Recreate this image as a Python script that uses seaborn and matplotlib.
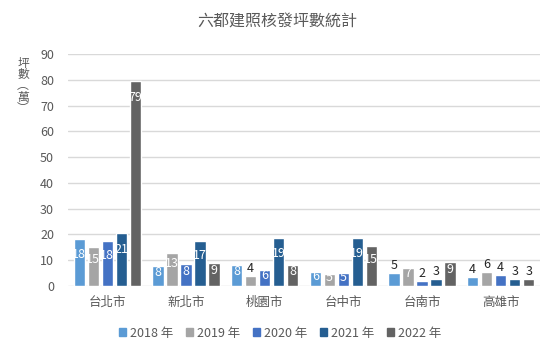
import matplotlib

matplotlib.use("Agg")
import matplotlib.pyplot as plt
import pandas as pd
import seaborn as sns

cities = ["台北市", "新北市", "桃園市", "台中市", "台南市", "高雄市"]
years = ["2018 年", "2019 年", "2020 年", "2021 年", "2022 年"]
area_2018 = [18.2, 7.7, 8.1, 5.6, 5.0, 3.6]
area_2019 = [15.1, 12.7, 3.9, 4.8, 7.0, 5.5]
area_2020 = [17.6, 8.4, 6.2, 5.1, 2.0, 4.2]
area_2021 = [20.6, 17.4, 18.6, 18.7, 2.7, 2.7]
area_2022 = [79.4, 8.9, 8.1, 15.4, 9.2, 2.7]
# labels drawn above the bar in black instead of inside
outside_labels = {
    ("桃園市", "2019 年"),
    ("台南市", "2018 年"), ("台南市", "2020 年"), ("台南市", "2021 年"),
    ("高雄市", "2018 年"), ("高雄市", "2019 年"), ("高雄市", "2020 年"),
    ("高雄市", "2021 年"), ("高雄市", "2022 年"),
}

colors = ["#5B9BD5", "#A5A5A5", "#4472C4", "#255E91", "#636363"]
FONT = ["Noto Sans CJK TC", "DejaVu Sans"]
TEXT_GREY = "#595959"

series = [area_2018, area_2019, area_2020, area_2021, area_2022]
df = pd.DataFrame(
    [(c, y, v) for y, vals in zip(years, series) for c, v in zip(cities, vals)],
    columns=["city", "year", "area"],
)

sns.set_style("white")
plt.rcParams["font.family"] = FONT

fig = plt.figure(figsize=(5.55, 3.57), dpi=100)
ax = fig.add_axes([68 / 555, 1 - 286 / 357, 472 / 555, 232 / 357])

sns.barplot(
    data=df, x="city", y="area", hue="year", order=cities, hue_order=years,
    palette=colors, width=0.89, gap=0.17, saturation=1, ax=ax, legend=True,
)

ax.set_ylim(0, 90)
ax.set_yticks(range(0, 91, 10))
ax.set_xlim(-0.5, len(cities) - 0.5)
ax.yaxis.grid(True, color="#D9D9D9", linewidth=1)
ax.set_axisbelow(True)
for side in ["top", "right", "left", "bottom"]:
    ax.spines[side].set_visible(False)
ax.tick_params(axis="both", length=0, labelsize=9, labelcolor=TEXT_GREY)
ax.tick_params(axis="y", pad=10)
ax.tick_params(axis="x", pad=7)
ax.set_xlabel("")
ax.set_ylabel("")

# value labels
for year, container in zip(years, ax.containers):
    for city, bar in zip(cities, container):
        h = bar.get_height()
        xc = bar.get_x() + bar.get_width() / 2
        if (city, year) in outside_labels:
            ax.annotate(f"{h:.0f}", (xc, h), xytext=(0, 0.5), textcoords="offset points",
                        ha="center", va="bottom", fontsize=9, color="#262626")
        else:
            ax.text(xc, h - min(6.3, 0.32 * h), f"{h:.0f}", ha="center", va="center",
                    fontsize=9, color="white")

ax.get_legend().remove()
handles = [plt.Rectangle((0, 0), 1, 1, color=c) for c in colors]
fig.legend(handles, years, loc="center", bbox_to_anchor=(0.505, 0.067), ncol=5,
           frameon=False, fontsize=9, labelcolor=TEXT_GREY, handlelength=0.55,
           handleheight=0.55, handletextpad=0.3, columnspacing=1.05)

fig.text(0.5, 1 - 22 / 357, "六都建照核發坪數統計", ha="center", va="center",
         fontsize=11.5, color=TEXT_GREY)

# stacked vertical axis title with vertical-form brackets
fig.text(23 / 555, 1 - 57 / 357, "坪\n數\n︵\n萬\n︶", ha="center", va="top",
         fontsize=8.5, color=TEXT_GREY, linespacing=0.82)

fig.savefig("out.png", dpi=100)
